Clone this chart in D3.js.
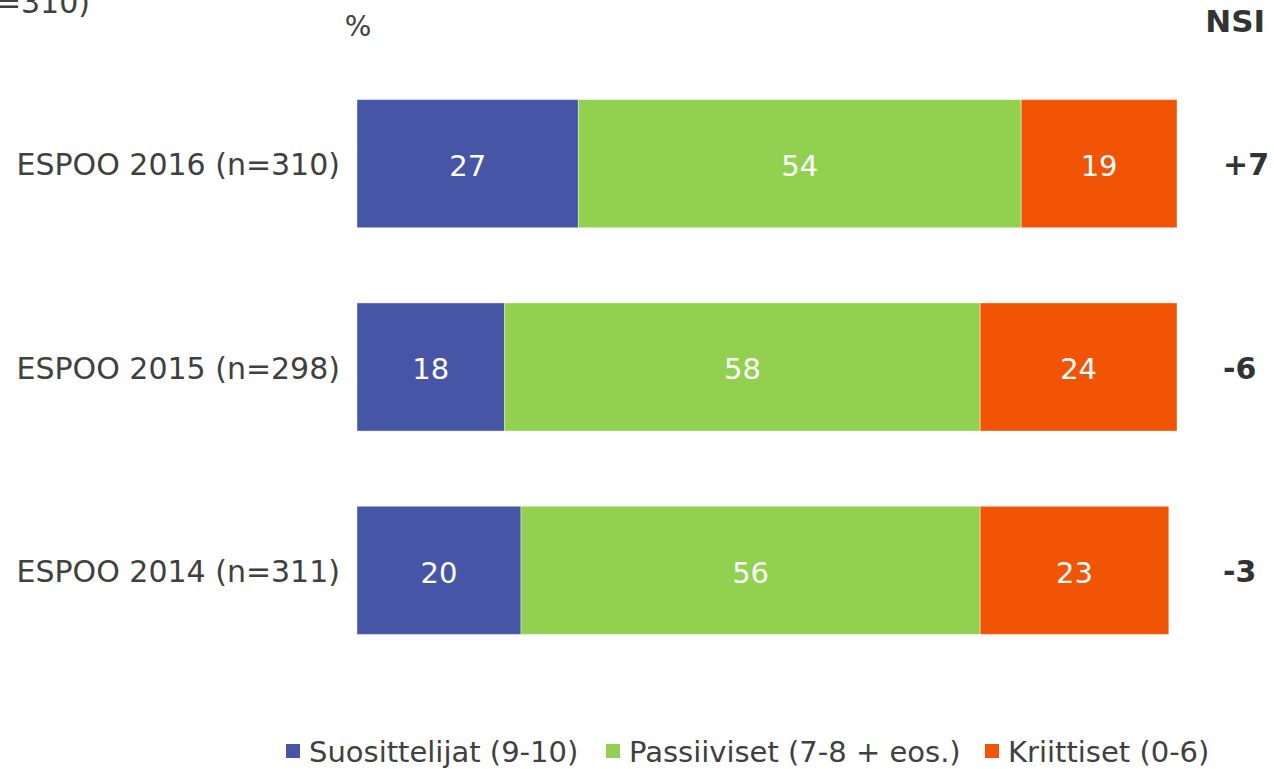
<!DOCTYPE html>
<html>
<head>
<meta charset="utf-8">
<script src="https://cdn.jsdelivr.net/npm/d3@7"></script>
<style>
body { margin: 0; background: #fff; }
svg text { font-family: "DejaVu Sans", Verdana, sans-serif; }
</style>
</head>
<body>
<div id="chart"></div>
<script>
var categories = ["ESPOO 2016 (n=310)", "ESPOO 2015 (n=298)", "ESPOO 2014 (n=311)"];
var series = ["Suosittelijat (9-10)", "Passiiviset (7-8 + eos.)", "Kriittiset (0-6)"];
var suosittelijat = [27, 18, 20];
var passiiviset = [54, 58, 56];
var kriittiset = [19, 24, 23];
var nsi = ["+7", "-6", "-3"];
var colors = ["#4755a6", "#92d050", "#f25406"];

var svg = d3.select("#chart").append("svg")
    .attr("width", 1274)
    .attr("height", 769);

var x = d3.scaleLinear().domain([0, 100]).range([357, 1177]);
var y = d3.scaleBand().domain(categories).range([63, 671]).paddingInner(0.37).paddingOuter(0.18);

var rows = categories.map(function (c, i) {
    return { cat: c, vals: [suosittelijat[i], passiiviset[i], kriittiset[i]], nsi: nsi[i] };
});

// label cut off at the top edge (from the slide above)
svg.append("text")
    .attr("x", 90).attr("y", 13)
    .attr("text-anchor", "end")
    .attr("fill", "#404040")
    .style("font-size", "30px")
    .text("ESPOO 2016 (n=310)");

svg.append("text")
    .attr("x", 358).attr("y", 36)
    .attr("text-anchor", "middle")
    .attr("fill", "#404040")
    .style("font-size", "28px")
    .text("%");

svg.append("text")
    .attr("x", 1265).attr("y", 32)
    .attr("text-anchor", "end")
    .attr("fill", "#333")
    .style("font-size", "31px")
    .style("font-weight", "bold")
    .text("NSI");

var g = svg.selectAll("g.row").data(rows).enter().append("g").attr("class", "row");

g.each(function (d) {
    var row = d3.select(this);
    var cy = y(d.cat) + y.bandwidth() / 2;
    var start = 0;
    d.vals.forEach(function (v, j) {
        row.append("rect")
            .attr("x", x(start))
            .attr("y", y(d.cat))
            .attr("width", x(start + v) - x(start))
            .attr("height", y.bandwidth())
            .attr("fill", colors[j])
            .attr("stroke", "rgba(255,255,255,0.4)")
            .attr("stroke-width", 1);
        row.append("text")
            .attr("x", (x(start) + x(start + v)) / 2)
            .attr("y", cy + 2)
            .attr("dy", "0.36em")
            .attr("text-anchor", "middle")
            .attr("fill", "#fff")
            .style("font-size", "29px")
            .text(v);
        start += v;
    });
    row.append("text")
        .attr("x", 340)
        .attr("y", cy + 1)
        .attr("dy", "0.36em")
        .attr("text-anchor", "end")
        .attr("fill", "#404040")
        .style("font-size", "30px")
        .text(d.cat);
    row.append("text")
        .attr("x", 1223)
        .attr("y", cy + 1)
        .attr("dy", "0.36em")
        .attr("text-anchor", "start")
        .attr("fill", "#333")
        .style("font-size", "30px")
        .style("font-weight", "bold")
        .text(d.nsi);
});

// legend
var legendX = [286, 606, 985];
var legend = svg.selectAll("g.legend").data(series).enter().append("g").attr("class", "legend")
    .attr("transform", function (d, i) { return "translate(" + legendX[i] + ",744)"; });
legend.append("rect")
    .attr("width", 14).attr("height", 14)
    .attr("fill", function (d, i) { return colors[i]; });
legend.append("text")
    .attr("x", 23).attr("y", 8)
    .attr("dy", "0.36em")
    .attr("fill", "#404040")
    .style("font-size", "29px")
    .text(function (d) { return d; });
</script>
</body>
</html>
